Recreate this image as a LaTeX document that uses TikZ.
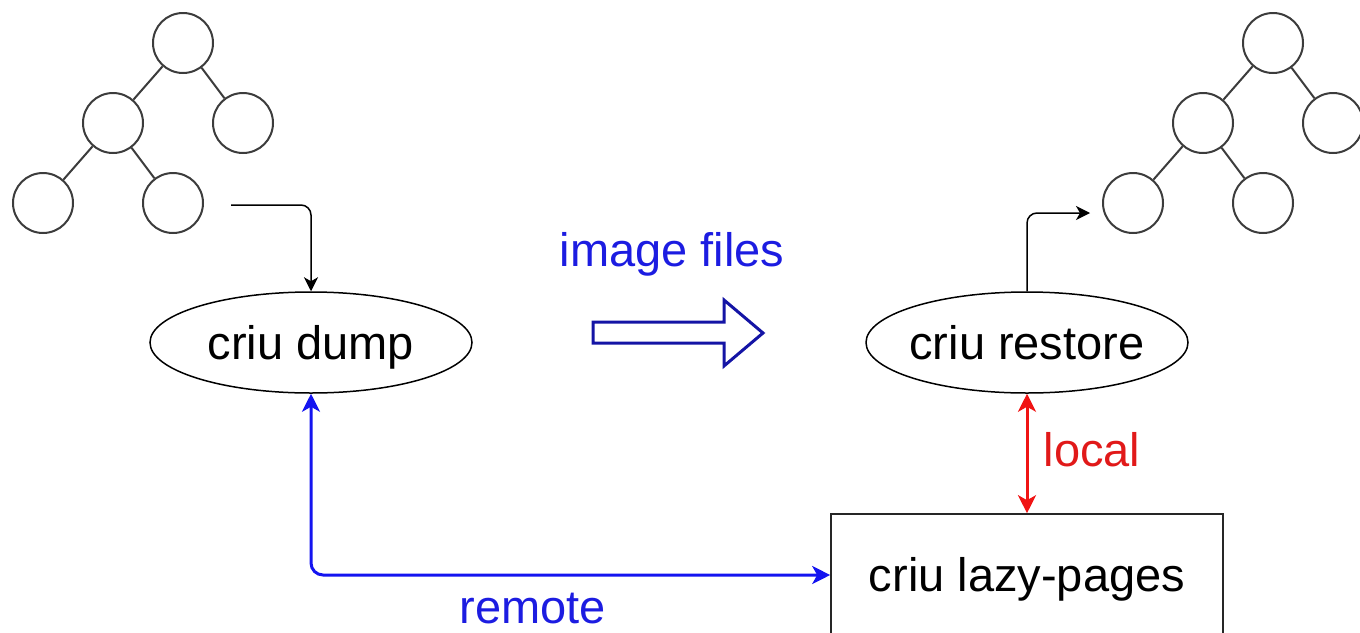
\documentclass[tikz,border=0pt]{standalone}
\usepackage{fontspec}
\setmainfont{Liberation Sans}
\usetikzlibrary{arrows.meta,shapes.geometric}
\definecolor{tblue}{RGB}{28,28,225}
\definecolor{lblue}{RGB}{20,20,240}
\definecolor{dblue}{RGB}{20,20,165}
\definecolor{tred}{RGB}{225,25,25}
\definecolor{lred}{RGB}{240,20,20}
\definecolor{tgray}{RGB}{60,60,60}
\begin{document}
\begin{tikzpicture}[x=0.5pt,y=-0.5pt,
  treenode/.style={circle,draw=tgray,line width=1pt,minimum size=30pt,inner sep=0pt},
  treeedge/.style={draw=tgray,line width=1pt},
  bigfont/.style={font=\fontsize{23.5}{28}\selectfont,text height=16.8pt,text depth=0pt},
  proc/.style={ellipse,draw=black,line width=0.75pt,minimum width=161pt,minimum height=50.5pt,inner xsep=-8pt,inner ysep=0pt,bigfont},
  lazybox/.style={rectangle,draw=black!85,line width=0.8pt,minimum width=196pt,minimum height=61pt,inner sep=0pt,bigfont},
  blkarrow/.style={draw=black,line width=0.75pt,rounded corners=5pt,-{Stealth[length=7pt,width=7pt,inset=2pt]}},
  bluearrow/.style={draw=lblue,line width=1.5pt,rounded corners=6pt,{Stealth[length=9pt,width=9pt,inset=2.5pt]}-{Stealth[length=9pt,width=9pt,inset=2.5pt]}},
  redarrow/.style={draw=lred,line width=1.5pt,{Stealth[length=9pt,width=9pt,inset=2.5pt]}-{Stealth[length=9pt,width=9pt,inset=2.5pt]}},
  lbl/.style={bigfont,inner sep=0pt,anchor=base}
]
\useasboundingbox (0,0) rectangle (1360,632);
\clip (0,0) rectangle (1360,632);

% left tree
\node[treenode] (a1) at (183,43) {};
\node[treenode] (a2) at (113,123) {};
\node[treenode] (a3) at (243,123) {};
\node[treenode] (a4) at (43,203) {};
\node[treenode] (a5) at (173,203) {};
\draw[treeedge] (a1) -- (a2);
\draw[treeedge] (a1) -- (a3);
\draw[treeedge] (a2) -- (a4);
\draw[treeedge] (a2) -- (a5);

% right tree
\node[treenode] (b1) at (1273,43) {};
\node[treenode] (b2) at (1203,123) {};
\node[treenode] (b3) at (1333,123) {};
\node[treenode] (b4) at (1133,203) {};
\node[treenode] (b5) at (1263,203) {};
\draw[treeedge] (b1) -- (b2);
\draw[treeedge] (b1) -- (b3);
\draw[treeedge] (b2) -- (b4);
\draw[treeedge] (b2) -- (b5);

% processes
\node[proc] (dump) at (311,342.5) {criu dump};
\node[proc] (restore) at (1027,342.5) {criu restore};
\node[lazybox] (lazy) at (1027,575) {criu lazy-pages};

% black connectors
\coordinate (s1) at (231,205);
\coordinate (e2) at (1090,213);
\draw[blkarrow] (s1) -| (dump.north);
\draw[blkarrow] (restore.north) |- (e2);

% blue remote
\draw[bluearrow] (dump.south) |- (lazy.west);
\node[lbl,text=tblue] (remote) at (533,623) {remote};

% red local
\draw[redarrow] (restore.south) -- (lazy.north);
\node[lbl,text=tred] (local) at (1092,466) {local};

% image files
\node[lbl,text=tblue] (imgfiles) at (672,266) {image files};
\draw[draw=dblue,line width=1.5pt,fill=white,line join=miter]
  (593,322) -- (724,322) -- (724,300) -- (763,333) -- (724,366) -- (724,343) -- (593,343) -- cycle;
\end{tikzpicture}
\end{document}
